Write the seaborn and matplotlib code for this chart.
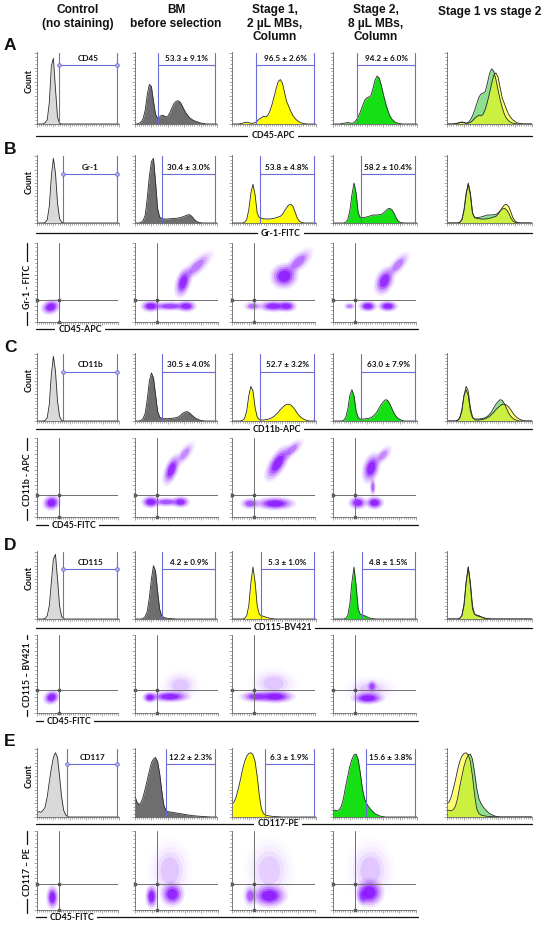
import numpy as np
import matplotlib
matplotlib.use('Agg')
import matplotlib.pyplot as plt
import seaborn as sns
from matplotlib.patches import Ellipse
from matplotlib.ticker import MultipleLocator

# ---------------- DATA ----------------
HIST_X = [i / 40 for i in range(41)]   # fraction of the (log) fluorescence axis

COLUMNS = ["Control\n(no staining)", "BM\nbefore selection",
           "Stage 1,\n2 µL MBs,\nColumn", "Stage 2,\n8 µL MBs,\nColumn", "Stage 1 vs stage 2"]
ROW_LETTERS = ["A", "B", "C", "D", "E"]
HIST_LABELS = ["CD45-APC", "Gr-1-FITC", "CD11b-APC", "CD115-BV421", "CD117-PE"]
MARKERS = ["CD45", "Gr-1", "CD11b", "CD115", "CD117"]
PCT_A = ["53.3 ± 9.1%", "96.5 ± 2.6%", "94.2 ± 6.0%"]
PCT_B = ["30.4 ± 3.0%", "53.8 ± 4.8%", "58.2 ± 10.4%"]
PCT_C = ["30.5 ± 4.0%", "52.7 ± 3.2%", "63.0 ± 7.9%"]
PCT_D = ["4.2 ± 0.9%", "5.3 ± 1.0%", "4.8 ± 1.5%"]
PCT_E = ["12.2 ± 2.3%", "6.3 ± 1.9%", "15.6 ± 3.8%"]
SC_XLABELS = ["CD45-APC", "CD45-FITC", "CD45-FITC", "CD45-FITC"]
SC_YLABELS = ["Gr-1 - FITC", "CD11b - APC", "CD115 – BV421", "CD117 – PE"]

# histogram heights (fraction of panel height) at HIST_X
A_CTRL = [0,0,0,0,.02,.06,.30,.82,.93,.50,.10,.01,0,0,0,0,0,0,0,0,0,0,0,0,0,0,0,0,0,0,0,0,0,0,0,0,0,0,0,0,0]
A_BM = [0,0,.01,.03,.08,.20,.42,.56,.53,.32,.14,.08,.10,.125,.12,.10,.11,.16,.23,.29,.32,.33,.31,.26,.20,.15,.11,.08,.06,.045,.035,.025,.015,.01,.005,0,0,0,0,0,0]
A_S1 = [0,0,0,0,.005,.01,.02,.025,.02,.01,.01,.02,.04,.07,.09,.11,.10,.12,.18,.27,.38,.50,.60,.63,.58,.45,.32,.25,.18,.12,.08,.05,.03,.015,.008,.003,0,0,0,0,0]
A_S2 = [0,0,0,0,.005,.01,.015,.02,.015,.01,.02,.05,.10,.17,.25,.33,.37,.38,.40,.50,.62,.68,.65,.55,.42,.30,.20,.12,.07,.04,.02,.01,.005,0,0,0,0,0,0,0,0]

B_CTRL = [0,0,0,0,.01,.05,.25,.70,.97,.75,.30,.07,.01,0,0,0,0,0,0,0,0,0,0,0,0,0,0,0,0,0,0,0,0,0,0,0,0,0,0,0,0]
B_BM = [0,0,0,.01,.04,.12,.38,.70,.92,.97,.62,.22,.09,.07,.06,.06,.06,.065,.065,.07,.07,.075,.08,.09,.10,.115,.125,.12,.09,.05,.025,.01,.005,0,0,0,0,0,0,0,0]
B_S1 = [0,0,0,0,0,0,.01,.05,.20,.45,.58,.42,.15,.08,.07,.065,.06,.06,.06,.065,.07,.08,.09,.10,.13,.18,.23,.27,.28,.25,.17,.08,.03,.01,.003,0,0,0,0,0,0]
B_S2 = [0,0,0,0,0,0,.01,.05,.18,.42,.60,.45,.15,.08,.08,.085,.09,.10,.11,.12,.12,.12,.125,.13,.15,.18,.21,.22,.20,.15,.08,.03,.01,.003,0,0,0,0,0,0,0]

C_CTRL = [0,0,0,0,.01,.05,.25,.70,.97,.75,.30,.07,.01,0,0,0,0,0,0,0,0,0,0,0,0,0,0,0,0,0,0,0,0,0,0,0,0,0,0,0,0]
C_BM = [0,0,0,.01,.04,.12,.33,.60,.72,.65,.40,.15,.06,.04,.035,.035,.035,.04,.04,.045,.05,.06,.08,.11,.13,.14,.135,.11,.08,.055,.035,.02,.01,.005,0,0,0,0,0,0,0]
C_S1 = [0,0,0,0,0,.01,.04,.15,.38,.52,.45,.20,.06,.02,.015,.015,.02,.025,.035,.05,.07,.10,.13,.17,.20,.23,.25,.25,.24,.21,.17,.12,.08,.05,.03,.015,.005,0,0,0,0]
C_S2 = [0,0,0,0,0,.01,.05,.17,.38,.47,.38,.15,.05,.03,.03,.03,.035,.04,.05,.07,.10,.14,.20,.25,.29,.32,.31,.26,.19,.12,.07,.04,.02,.008,0,0,0,0,0,0,0]

D_CTRL = [0,0,0,0,.01,.05,.20,.55,.90,.97,.60,.20,.04,.005,0,0,0,0,0,0,0,0,0,0,0,0,0,0,0,0,0,0,0,0,0,0,0,0,0,0,0]
D_BM = [0,0,0,0,.01,.04,.12,.32,.60,.80,.72,.42,.15,.05,.025,.015,.01,.008,.005,.003,0,0,0,0,0,0,0,0,0,0,0,0,0,0,0,0,0,0,0,0,0]
D_S1 = [0,0,0,0,0,0,.01,.05,.20,.55,.78,.55,.20,.07,.05,.04,.03,.02,.012,.006,.003,0,0,0,0,0,0,0,0,0,0,0,0,0,0,0,0,0,0,0,0]
D_S2 = [0,0,0,0,0,0,.01,.05,.22,.55,.78,.50,.15,.07,.06,.05,.035,.02,.01,.005,.002,0,0,0,0,0,0,0,0,0,0,0,0,0,0,0,0,0,0,0,0]

E_CTRL = [.06,.08,.07,.10,.15,.30,.52,.72,.88,.95,.88,.60,.30,.10,.03,.005,0,0,0,0,0,0,0,0,0,0,0,0,0,0,0,0,0,0,0,0,0,0,0,0,0]
E_BM = [.30,.22,.18,.22,.30,.42,.55,.68,.80,.86,.88,.82,.65,.40,.18,.10,.08,.075,.07,.065,.06,.055,.05,.045,.04,.035,.03,.025,.02,.018,.015,.012,.01,.008,.006,.004,.002,0,0,0,0]
E_S1 = [.20,.22,.30,.42,.55,.70,.82,.90,.94,.95,.92,.82,.60,.32,.12,.05,.03,.02,.015,.01,.008,.006,.004,.002,0,0,0,0,0,0,0,0,0,0,0,0,0,0,0,0,0]
E_S2 = [.10,.10,.09,.11,.16,.28,.45,.60,.75,.85,.92,.93,.85,.65,.42,.27,.20,.15,.11,.08,.05,.035,.02,.01,.005,0,0,0,0,0,0,0,0,0,0,0,0,0,0,0,0]

OVERLAY_GAIN = [1.15, 1.0, 1.0, 1.0, 1.0]

# gates: left edge per column (ctrl, BM, S1, S2), gate-line height per row
GATE_LEFT_A = [0.27, 0.28, 0.29, 0.29]
GATE_LEFT_B = [0.32, 0.33, 0.33, 0.33]
GATE_LEFT_C = [0.32, 0.33, 0.33, 0.33]
GATE_LEFT_D = [0.32, 0.33, 0.34, 0.34]
GATE_LEFT_E = [0.37, 0.38, 0.39, 0.39]
GATE_HEIGHT = [0.83, 0.73, 0.74, 0.75, 0.78]

# dot-plot populations: (centre x, centre y, extent x, extent y, tilt deg, density)
SC_B_CTRL = [(0.17, 0.19, 0.26, 0.20, 20, 1.0)]
SC_B_BM = [(0.19, 0.20, 0.26, 0.16, 0, 1.0), (0.42, 0.20, 0.50, 0.13, 0, 0.7),
           (0.62, 0.20, 0.26, 0.16, 0, 0.9), (0.58, 0.50, 0.20, 0.42, -15, 0.9),
           (0.74, 0.70, 0.60, 0.20, 45, 0.4)]
SC_B_S1 = [(0.25, 0.20, 0.24, 0.13, 0, 0.5), (0.50, 0.20, 0.40, 0.16, 0, 0.9),
           (0.66, 0.20, 0.26, 0.16, 0, 0.9), (0.63, 0.58, 0.36, 0.34, 30, 1.0),
           (0.80, 0.76, 0.50, 0.22, 45, 0.45)]
SC_B_S2 = [(0.20, 0.20, 0.16, 0.10, 0, 0.4), (0.42, 0.20, 0.24, 0.15, 0, 1.0),
           (0.66, 0.20, 0.26, 0.15, 0, 1.0), (0.62, 0.52, 0.24, 0.40, -20, 0.9),
           (0.78, 0.72, 0.45, 0.18, 50, 0.4)]
SC_C_CTRL = [(0.18, 0.18, 0.24, 0.21, 20, 1.0)]
SC_C_BM = [(0.19, 0.19, 0.24, 0.17, 0, 1.0), (0.38, 0.19, 0.40, 0.13, 0, 0.6),
           (0.55, 0.19, 0.24, 0.16, 0, 0.85), (0.44, 0.60, 0.18, 0.44, -20, 0.9),
           (0.60, 0.80, 0.40, 0.16, 55, 0.35)]
SC_C_S1 = [(0.22, 0.17, 0.26, 0.16, 0, 0.6), (0.52, 0.17, 0.52, 0.18, 0, 1.0),
           (0.55, 0.68, 0.54, 0.22, 60, 0.95), (0.72, 0.85, 0.40, 0.16, 45, 0.4)]
SC_C_S2 = [(0.30, 0.18, 0.24, 0.18, 0, 0.9), (0.50, 0.18, 0.24, 0.18, 0, 1.0),
           (0.46, 0.62, 0.22, 0.42, -15, 0.95), (0.48, 0.38, 0.08, 0.26, 0, 0.5),
           (0.60, 0.78, 0.33, 0.16, 50, 0.35)]
SC_D_CTRL = [(0.18, 0.20, 0.23, 0.19, 30, 1.0)]
SC_D_BM = [(0.18, 0.20, 0.19, 0.15, 0, 1.0), (0.42, 0.21, 0.52, 0.16, 0, 0.95),
           (0.55, 0.35, 0.50, 0.42, 0, 0.15)]
SC_D_S1 = [(0.30, 0.21, 0.45, 0.16, 0, 0.75), (0.52, 0.21, 0.50, 0.18, 0, 1.0),
           (0.50, 0.38, 0.62, 0.42, 0, 0.15)]
SC_D_S2 = [(0.42, 0.19, 0.42, 0.17, 0, 1.0), (0.47, 0.34, 0.13, 0.18, 0, 0.6),
           (0.45, 0.30, 0.65, 0.36, 0, 0.15)]
SC_E_CTRL = [(0.19, 0.16, 0.16, 0.32, 0, 1.0)]
SC_E_BM = [(0.20, 0.17, 0.16, 0.32, 0, 1.0), (0.45, 0.20, 0.30, 0.33, 0, 0.95),
           (0.42, 0.50, 0.55, 0.85, 0, 0.15)]
SC_E_S1 = [(0.22, 0.18, 0.18, 0.30, 0, 0.55), (0.45, 0.18, 0.45, 0.32, 0, 1.0),
           (0.45, 0.50, 0.65, 0.90, 0, 0.12)]
SC_E_S2 = [(0.44, 0.22, 0.36, 0.38, 0, 1.0), (0.36, 0.18, 0.16, 0.26, 0, 0.6),
           (0.45, 0.50, 0.60, 0.85, 0, 0.15)]
QUAD_X = 0.27
QUAD_Y = [0.28, 0.28, 0.29, 0.33]

# ---------------- STYLE / LAYOUT ----------------
sns.set_theme(style='white')
plt.rcParams['font.family'] = ['Liberation Sans', 'DejaVu Sans']
LBL = ['Lato', 'DejaVu Sans']
SMALL = 6.3

W, H = 550, 926
fig = plt.figure(figsize=(5.5, 9.26), dpi=100)
fig.patch.set_facecolor('white')

COL_LEFT = [37, 135, 232, 333, 447]
COL_W = [82, 82, 84, 84, 85]
HIST_TOP = [52, 155, 353, 551, 748]
HIST_H = [72, 68, 68, 68, 69]
SC_TOP = [243, 438, 635, 831]
SC_H = [79, 79, 78, 79]
HIST_LINE_Y = [136, 233, 429, 628, 824]
HIST_LABEL_X = [273, 281, 277, 283, 278]
SC_LINE_Y = [329, 525, 721, 917]
SC_LABEL_X = [80, 74, 69, 72]
SC_YLABEL_Y = [287, 480, 675, 872]

FILLS = ['#d9d9d9', '#6e6e6e', '#ffff00', '#14e014']
EDGE = '#2a2a2a'
GATE_C = '#6b6bd6'
PURPLE = '#8a14ff'
LAYERS = [(1.0, 0.10), (0.85, 0.16), (0.7, 0.26), (0.55, 0.45), (0.4, 0.75)]


def ax_px(l, t, w, h, z=2):
    return fig.add_axes([l / W, 1 - (t + h) / H, w / W, h / H], zorder=z)


def style(ax):
    ax.set_xlim(0, 1)
    ax.set_ylim(0, 1.02)
    for s in ['top', 'right']:
        ax.spines[s].set_visible(False)
    for s in ['left', 'bottom']:
        ax.spines[s].set_color('#666666')
        ax.spines[s].set_linewidth(0.6)
    ax.xaxis.set_major_locator(MultipleLocator(0.2))
    ax.xaxis.set_minor_locator(MultipleLocator(0.025))
    ax.yaxis.set_major_locator(MultipleLocator(0.2))
    ax.yaxis.set_minor_locator(MultipleLocator(0.05))
    ax.tick_params(which='both', direction='out', width=0.4, color='#666666',
                   labelbottom=False, labelleft=False, bottom=True, left=True,
                   top=False, right=False)
    ax.tick_params(which='minor', length=1.2)
    ax.tick_params(which='major', length=2.2)
    ax.set_xlabel('')
    ax.set_ylabel('')
    ax.patch.set_alpha(0)


def draw_hist(ax, y, fill, alpha=1.0, gain=1.0):
    yy = np.array(y) * gain
    ax.fill_between(HIST_X, yy, 0, color=fill, alpha=alpha, lw=0)
    sns.lineplot(x=HIST_X, y=yy, ax=ax, color=EDGE, lw=0.6)


def gate(ax, x0, yh, text, ends=False):
    x1 = 0.98
    ax.plot([x0, x1], [yh, yh], color=GATE_C, lw=0.8)
    ax.plot([x0, x0], [0, 1.0], color=GATE_C, lw=0.8)
    ax.plot([x1, x1], [0, 1.0], color=GATE_C, lw=0.8)
    if ends:
        ax.plot([x0, x1], [yh, yh], 'o', ms=2.6, mfc='#b8b8f0', mec=GATE_C, mew=0.6)
    ax.text((x0 + x1) / 2, yh + 0.05, text, ha='center', va='bottom',
            fontsize=5.9, fontweight='bold', family=LBL, color='#111111')


def draw_pops(ax, pops):
    for (cx, cy, w, h, ang, d) in pops:
        for s, a in LAYERS:
            ax.add_patch(Ellipse((cx, cy), w * s, h * s, angle=ang,
                                 facecolor=PURPLE, alpha=min(1, a * d), lw=0))


def quad(ax, yq):
    c = '#6e6e6e'
    ax.axvline(QUAD_X, color=c, lw=0.7)
    ax.axhline(yq, color=c, lw=0.7)
    ax.plot([QUAD_X, 0.005, QUAD_X], [yq, yq, 0.005], 's', ms=1.6, color='#555555', clip_on=False)


HISTS = [[A_CTRL, A_BM, A_S1, A_S2], [B_CTRL, B_BM, B_S1, B_S2], [C_CTRL, C_BM, C_S1, C_S2],
         [D_CTRL, D_BM, D_S1, D_S2], [E_CTRL, E_BM, E_S1, E_S2]]
PCTS = [PCT_A, PCT_B, PCT_C, PCT_D, PCT_E]
GLEFT = [GATE_LEFT_A, GATE_LEFT_B, GATE_LEFT_C, GATE_LEFT_D, GATE_LEFT_E]
SCATS = [[SC_B_CTRL, SC_B_BM, SC_B_S1, SC_B_S2], [SC_C_CTRL, SC_C_BM, SC_C_S1, SC_C_S2],
         [SC_D_CTRL, SC_D_BM, SC_D_S1, SC_D_S2], [SC_E_CTRL, SC_E_BM, SC_E_S1, SC_E_S2]]

# histogram rows
for r in range(5):
    for c in range(5):
        ax = ax_px(COL_LEFT[c], HIST_TOP[r], COL_W[c], HIST_H[r])
        style(ax)
        if c < 4:
            draw_hist(ax, HISTS[r][c], FILLS[c])
            if c == 0:
                gate(ax, GLEFT[r][0], GATE_HEIGHT[r], MARKERS[r], ends=True)
            else:
                gate(ax, GLEFT[r][c], GATE_HEIGHT[r], PCTS[r][c - 1])
        else:
            g = OVERLAY_GAIN[r]
            draw_hist(ax, HISTS[r][3], '#5fd35f', alpha=0.7, gain=g)
            draw_hist(ax, HISTS[r][2], '#ffff00', alpha=0.55, gain=g)

# dot-plot rows
for r in range(4):
    for c in range(4):
        ax = ax_px(COL_LEFT[c], SC_TOP[r], 83 if c else 81, SC_H[r])
        style(ax)
        ax.set_ylim(0, 1)
        draw_pops(ax, SCATS[r][c])
        quad(ax, QUAD_Y[r])

# overlay for texts and label lines (pixel coordinates)
ov = fig.add_axes([0, 0, 1, 1], zorder=1)
ov.set_xlim(0, W)
ov.set_ylim(H, 0)
ov.axis('off')
ov.patch.set_alpha(0)

HEAD_X = [78, 176, 275, 376, 490]
for c in range(5):
    ov.text(HEAD_X[c], 4 if c < 4 else 6, COLUMNS[c], ha='center', va='top', fontsize=8.6,
            fontweight='bold', linespacing=1.18, color='#111111')

for r in range(5):
    ov.text(4, HIST_TOP[r] - 6, ROW_LETTERS[r], ha='left', va='center', fontsize=12.5,
            fontweight='bold', color='#111111')
    ov.text(29, HIST_TOP[r] + HIST_H[r] * 0.4, 'Count', rotation=90, ha='center', va='center',
            fontsize=SMALL, fontweight='bold', family=LBL, color='#111111')
    ov.plot([36, 532], [HIST_LINE_Y[r]] * 2, color='#111111', lw=0.9)
    ov.text(HIST_LABEL_X[r], HIST_LINE_Y[r], HIST_LABELS[r], ha='center', va='center',
            fontsize=SMALL, fontweight='bold', family=LBL, color='#111111',
            bbox=dict(facecolor='white', edgecolor='none', pad=2.2))

for r in range(4):
    ov.plot([36, 418], [SC_LINE_Y[r]] * 2, color='#111111', lw=0.9)
    ov.text(SC_LABEL_X[r], SC_LINE_Y[r], SC_XLABELS[r], ha='center', va='center',
            fontsize=SMALL, fontweight='bold', family=LBL, color='#111111',
            bbox=dict(facecolor='white', edgecolor='none', pad=2.2))
    ov.plot([27, 27], [SC_TOP[r], SC_TOP[r] + SC_H[r] + 3], color='#111111', lw=0.9)
    ov.text(27, SC_YLABEL_Y[r], SC_YLABELS[r], rotation=90, ha='center', va='center',
            fontsize=SMALL, fontweight='bold', family=LBL, color='#111111',
            bbox=dict(facecolor='white', edgecolor='none', pad=2.2))

fig.savefig('out.png', dpi=100, facecolor='white')
